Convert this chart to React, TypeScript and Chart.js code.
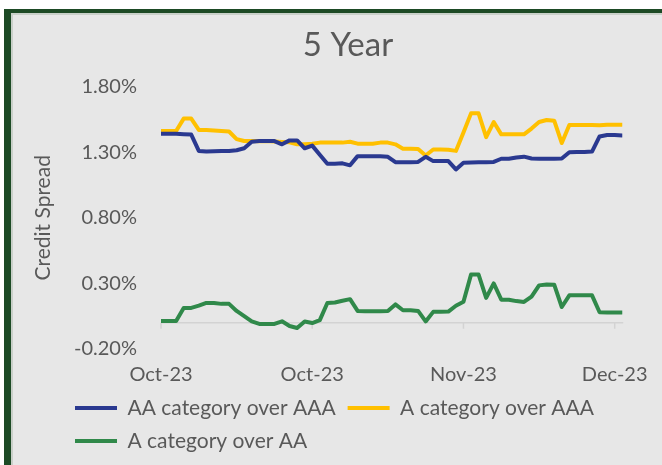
import React, { useEffect, useRef } from "react";
import { Chart, registerables } from "chart.js";

Chart.register(...registerables);

// Credit spreads (%) — one point per observation, Oct-23 .. early Dec-23
const seriesAAoverAAA = [
  1.441, 1.441, 1.440, 1.437, 1.434, 1.310, 1.305, 1.308, 1.310, 1.310,
  1.315, 1.330, 1.380, 1.385, 1.385, 1.385, 1.360, 1.390, 1.390, 1.330,
  1.350, 1.280, 1.212, 1.212, 1.215, 1.200, 1.270, 1.270, 1.270, 1.270,
  1.265, 1.224, 1.224, 1.224, 1.226, 1.265, 1.232, 1.232, 1.232, 1.169,
  1.220, 1.222, 1.224, 1.224, 1.226, 1.250, 1.250, 1.260, 1.266, 1.252,
  1.250, 1.250, 1.250, 1.252, 1.300, 1.301, 1.301, 1.305, 1.420, 1.431,
  1.431, 1.428,
];
const seriesAoverAAA = [
  1.461, 1.461, 1.461, 1.556, 1.556, 1.470, 1.469, 1.465, 1.462, 1.458,
  1.400, 1.385, 1.385, 1.383, 1.385, 1.382, 1.378, 1.375, 1.360, 1.360,
  1.365, 1.373, 1.373, 1.373, 1.373, 1.380, 1.365, 1.365, 1.365, 1.373,
  1.373, 1.360, 1.327, 1.327, 1.325, 1.275, 1.321, 1.320, 1.318, 1.310,
  1.450, 1.596, 1.596, 1.415, 1.530, 1.436, 1.436, 1.436, 1.436, 1.480,
  1.530, 1.545, 1.540, 1.370, 1.507, 1.507, 1.507, 1.508, 1.505, 1.510,
  1.510, 1.510,
];
const seriesAoverAA = [
  0.014, 0.014, 0.014, 0.113, 0.113, 0.130, 0.151, 0.151, 0.144, 0.144,
  0.090, 0.050, 0.010, -0.009, -0.009, -0.009, 0.011, -0.025, -0.040, 0.010,
  -0.002, 0.020, 0.151, 0.155, 0.168, 0.180, 0.090, 0.087, 0.087, 0.087,
  0.090, 0.140, 0.095, 0.095, 0.090, 0.010, 0.083, 0.083, 0.085, 0.130,
  0.160, 0.367, 0.367, 0.190, 0.300, 0.176, 0.176, 0.165, 0.159, 0.200,
  0.285, 0.291, 0.290, 0.120, 0.209, 0.209, 0.209, 0.209, 0.080, 0.078,
  0.079, 0.079,
];

const seriesNames = ["AA category over AAA", "A category over AAA", "A category over AA"];
const xTickIndices = [0, 20, 40, 60];
const xTickLabels = ["Oct-23", "Oct-23", "Nov-23", "Dec-23"];
const yTickValues = [-0.2, 0.3, 0.8, 1.3, 1.8];

const FONT = "Lato";
const TEXT = "#595959";

const zeroLinePlugin = {
  id: "zeroLine",
  beforeDatasetsDraw(chart: any) {
    const { ctx, chartArea, scales } = chart;
    const x = scales.x;
    const y = scales.y;
    const py = y.getPixelForValue(0);
    ctx.save();
    ctx.strokeStyle = "#d3d3d3";
    ctx.lineWidth = 1.5;
    ctx.beginPath();
    ctx.moveTo(chartArea.left, py);
    ctx.lineTo(chartArea.right + 1, py);
    xTickIndices.forEach((i) => {
      const px = x.getPixelForValue(i);
      ctx.moveTo(px, py);
      ctx.lineTo(px, py + 6);
    });
    ctx.stroke();
    ctx.restore();
  },
};

export default function App() {
  const ref = useRef<HTMLCanvasElement | null>(null);

  useEffect(() => {
    if (!ref.current) return;
    const mk = (vals: number[]) => vals.map((v, i) => ({ x: i, y: v }));
    const line = (label: string, data: number[], color: string) => ({
      label,
      data: mk(data),
      borderColor: color,
      backgroundColor: color,
      borderWidth: 4,
      pointRadius: 0,
      tension: 0,
      borderJoinStyle: "round",
      borderCapStyle: "round",
    });
    const chart = new Chart(ref.current, {
      type: "line",
      data: {
        datasets: [
          line(seriesNames[0], seriesAAoverAAA, "#2a3990"),
          line(seriesNames[1], seriesAoverAAA, "#ffc000"),
          line(seriesNames[2], seriesAoverAA, "#30894a"),
        ] as any,
      },
      options: {
        animation: false,
        responsive: false,
        devicePixelRatio: 1,
        layout: { padding: { left: 63, right: 29, top: 14, bottom: 3.5 } },
        plugins: {
          title: {
            display: true,
            text: "5 Year",
            color: TEXT,
            font: { family: FONT, size: 33, weight: "normal" },
            padding: { top: 12, bottom: 21 },
          },
          legend: {
            position: "bottom",
            align: "start",
            labels: {
              usePointStyle: true,
              pointStyle: "line",
              pointStyleWidth: 42,
              color: TEXT,
              font: { family: FONT, size: 21 },
              padding: 12,
            },
          },
          tooltip: { enabled: false },
        },
        scales: {
          x: {
            type: "linear",
            min: 0,
            max: seriesAAoverAAA.length - 1,
            grid: { display: false, drawTicks: false },
            border: { display: false },
            afterBuildTicks: (s: any) => {
              s.ticks = xTickIndices.map((value) => ({ value }));
            },
            afterFit: (s: any) => {
              s.height = 36.5;
            },
            ticks: {
              autoSkip: false,
              maxRotation: 0,
              padding: 14,
              color: TEXT,
              font: { family: FONT, size: 20 },
              callback: (v: any) => {
                const k = xTickIndices.indexOf(Number(v));
                return k >= 0 ? xTickLabels[k] : "";
              },
            },
          },
          y: {
            min: -0.2,
            max: 1.8,
            grid: { display: false, drawTicks: false },
            border: { display: false },
            afterBuildTicks: (s: any) => {
              s.ticks = yTickValues.map((value) => ({ value }));
            },
            afterFit: (s: any) => {
              s.width = 98;
            },
            ticks: {
              padding: 24,
              color: TEXT,
              font: { family: FONT, size: 20 },
              callback: (v: any) => Number(v).toFixed(2) + "%",
            },
            title: {
              display: true,
              text: "Credit Spread",
              color: TEXT,
              font: { family: FONT, size: 21 },
              padding: { top: -32.6, bottom: 0 },
            },
          },
        },
      } as any,
      plugins: [zeroLinePlugin],
    });
    return () => chart.destroy();
  }, []);

  return (
    <div style={{ position: "fixed", left: 0, top: 0, width: 662, height: 465, background: "#ffffff", overflow: "hidden" }}>
      <div
        style={{
          position: "absolute",
          left: 4,
          top: 9,
          right: 0,
          bottom: 0,
          borderLeft: "7px solid #1d4a25",
          borderTop: "4px solid #1d4a25",
          background: "#e7e7e7",
          boxShadow: "inset 2px 2px 0 #c9d0c9",
        }}
      />
      <canvas ref={ref} width={662} height={465} style={{ position: "absolute", left: 0, top: 0 }} />
    </div>
  );
}
